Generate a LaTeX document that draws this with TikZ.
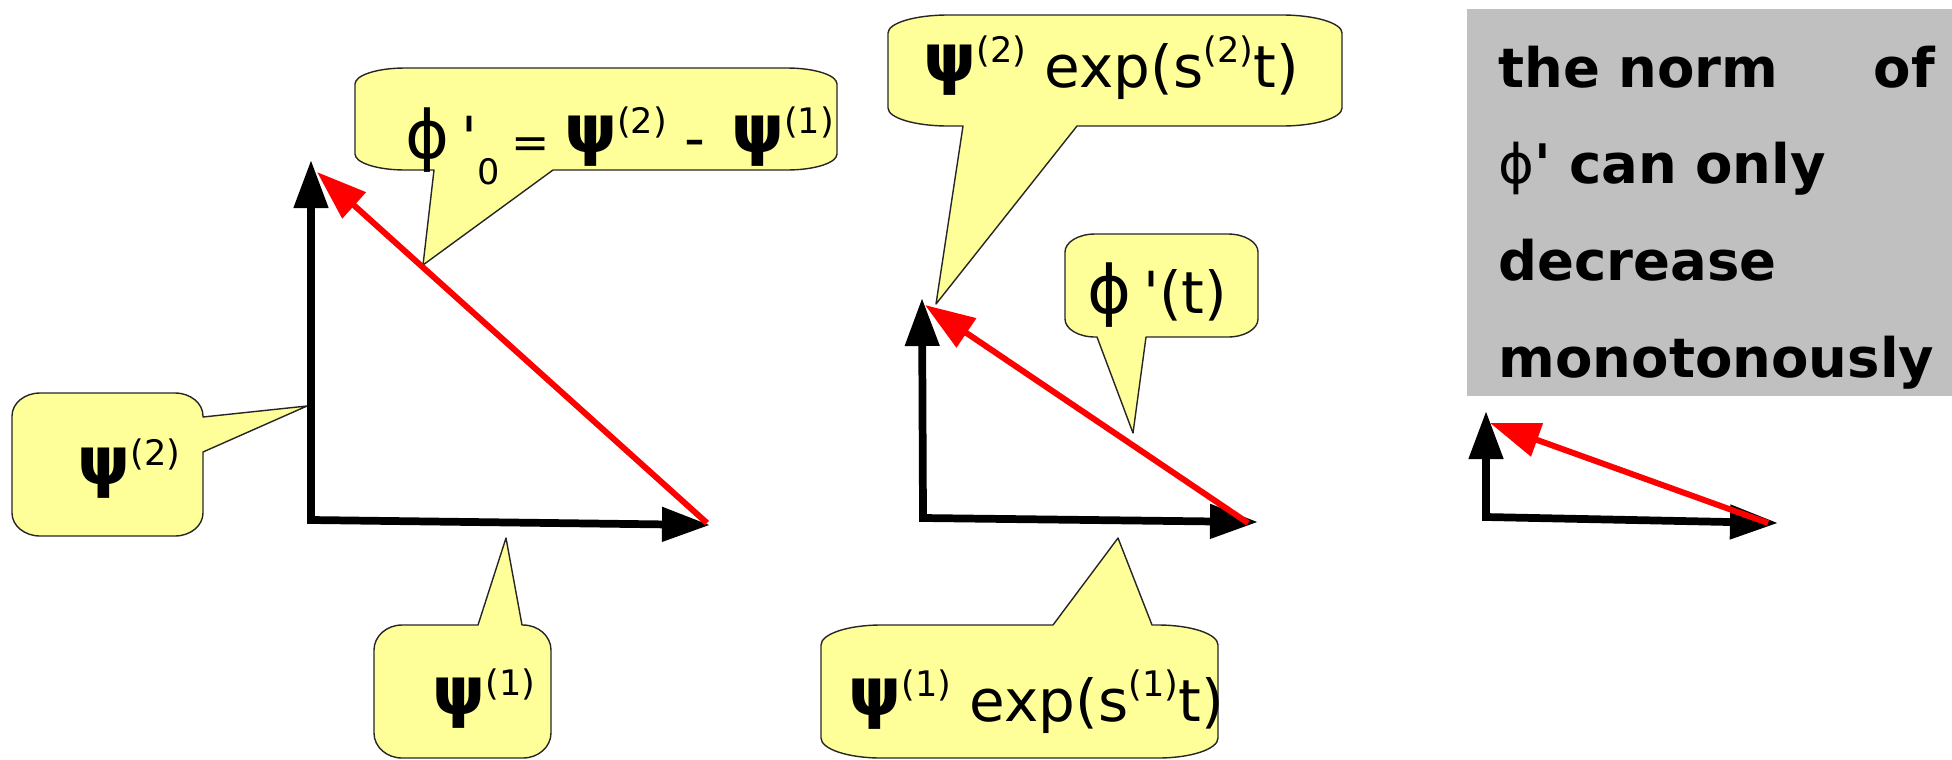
\documentclass[tikz,border=0pt]{standalone}
\usepackage{fontspec}
\setmainfont{DejaVu Sans}
\usepackage{tikz}
\usetikzlibrary{arrows.meta}
\definecolor{bubfill}{RGB}{255,255,153}
\definecolor{normgray}{RGB}{192,192,192}
\newcommand{\sups}[1]{\raisebox{0.42em}{\fontsize{10}{10}\selectfont #1}}
\newcommand{\bpsi}{\raisebox{0.06cm}{\fontsize{19}{19}\selectfont\bfseries ψ}}
\newcommand{\bphi}{{\fontsize{19}{19}\selectfont ϕ}}
\tikzset{
  axisline/.style={
    >={Triangle[length=4.8mm,width=3.3mm]}, <->,
    line width=2.2pt, line join=miter, color=black
  },
  redarrow/.style={-{Triangle[length=5mm,width=3.4mm]}, line width=1.7pt, color=red},
  bubble/.style={draw=black!85, fill=bubfill, line width=0.4pt, line join=round},
  bubtext/.style={anchor=base west, inner sep=0pt, font=\fontsize{16.5}{20}\selectfont},
  normtext/.style={
    anchor=north west, inner sep=0pt, align=left, text width=4.36cm,
    font=\fontsize{15.5}{27.5}\selectfont\bfseries
  },
}

\begin{document}
\begin{tikzpicture}
  \useasboundingbox (0,0) rectangle (19.52,-7.59);

  \coordinate (orig1)  at (3.11,-5.20);
  \coordinate (yend1)  at (3.11,-1.60);
  \coordinate (xend1)  at (7.10,-5.25);
  \coordinate (rtail1) at (7.07,-5.23);
  \coordinate (rhead1) at (3.17,-1.72);

  \coordinate (orig2)  at (9.23,-5.18);
  \coordinate (yend2)  at (9.22,-2.98);
  \coordinate (xend2)  at (12.58,-5.22);
  \coordinate (rtail2) at (12.48,-5.23);
  \coordinate (rhead2) at (9.25,-3.05);

  \coordinate (orig3)  at (14.86,-5.17);
  \coordinate (yend3)  at (14.86,-4.11);
  \coordinate (xend3)  at (17.78,-5.23);
  \coordinate (rtail3) at (17.68,-5.23);
  \coordinate (rhead3) at (14.90,-4.23);

  \coordinate (tipphizero) at (4.23,-2.65);
  \coordinate (tippsitwoexp) at (9.36,-3.04);
  \coordinate (tipphit)   at (11.33,-4.33);
  \coordinate (tippsitwo) at (3.07,-4.06);
  \coordinate (tippsione) at (5.06,-5.38);
  \coordinate (tippsioneexp) at (11.18,-5.38);

  \draw[bubble, x radius=0.5, y radius=0.16]
    (4.05,-0.68) -- (7.87,-0.68) arc[start angle=90, end angle=0]
    -- (8.37,-1.54) arc[start angle=0, end angle=-90]
    -- (5.53,-1.70) -- (tipphizero) -- (4.34,-1.70)
    -- (4.05,-1.70) arc[start angle=-90, end angle=-180]
    -- (3.55,-0.84) arc[start angle=180, end angle=90] -- cycle;
  \draw[bubble, x radius=0.6, y radius=0.18]
    (9.48,-0.15) -- (12.82,-0.15) arc[start angle=90, end angle=0]
    -- (13.42,-1.08) arc[start angle=0, end angle=-90]
    -- (10.77,-1.26) -- (tippsitwoexp) -- (9.63,-1.26)
    -- (9.48,-1.26) arc[start angle=-90, end angle=-180]
    -- (8.88,-0.33) arc[start angle=180, end angle=90] -- cycle;
  \draw[bubble, x radius=0.3, y radius=0.18]
    (10.95,-2.34) -- (12.28,-2.34) arc[start angle=90, end angle=0]
    -- (12.58,-3.19) arc[start angle=0, end angle=-90]
    -- (11.46,-3.37) -- (tipphit) -- (10.97,-3.37)
    -- (10.95,-3.37) arc[start angle=-90, end angle=-180]
    -- (10.65,-2.52) arc[start angle=180, end angle=90] -- cycle;
  \draw[bubble, x radius=0.28, y radius=0.23]
    (0.40,-3.93) -- (1.75,-3.93) arc[start angle=90, end angle=0]
    -- (2.03,-4.17) -- (tippsitwo) -- (2.03,-4.52)
    -- (2.03,-5.13) arc[start angle=0, end angle=-90]
    -- (0.40,-5.36) arc[start angle=-90, end angle=-180]
    -- (0.12,-4.16) arc[start angle=180, end angle=90] -- cycle;
  \draw[bubble, x radius=0.28, y radius=0.25]
    (4.02,-6.25) -- (4.78,-6.25) -- (tippsione) -- (5.22,-6.25)
    -- (5.23,-6.25) arc[start angle=90, end angle=0]
    -- (5.51,-7.33) arc[start angle=0, end angle=-90]
    -- (4.02,-7.58) arc[start angle=-90, end angle=-180]
    -- (3.74,-6.50) arc[start angle=180, end angle=90] -- cycle;
  \draw[bubble, x radius=0.6, y radius=0.2]
    (8.81,-6.25) -- (10.53,-6.25) -- (tippsioneexp) -- (11.52,-6.25)
    -- (11.58,-6.25) arc[start angle=90, end angle=0]
    -- (12.18,-7.38) arc[start angle=0, end angle=-90]
    -- (8.81,-7.58) arc[start angle=-90, end angle=-180]
    -- (8.21,-6.45) arc[start angle=180, end angle=90] -- cycle;

  \node[bubtext] (phizero) at (4.05,-1.58)
       {\bphi\hspace{0.2em}\textquotesingle\raisebox{-0.45em}{\fontsize{10}{10}\selectfont 0}\hspace{0.2em}{\fontsize{13}{13}\selectfont =}\hspace{0.25em}\bpsi\sups{(2)}\hspace{0.3em}-\hspace{0.45em}\bpsi\sups{(1)}};
  \node[bubtext] (psitwoexp) at (9.23,-0.87) {\bpsi\sups{(2)} exp(s\sups{(2)}t)};
  \node[bubtext] (phit) at (10.87,-3.13) {\bphi\hspace{0.2em}\textquotesingle(t)};
  \node[bubtext] (psitwo) at (0.77,-4.90) {\bpsi\sups{(2)}};
  \node[bubtext] (psione) at (4.32,-7.20) {\bpsi\sups{(1)}};
  \node[bubtext] (psioneexp) at (8.48,-7.21) {\bpsi\sups{(1)} exp(s\sups{(1)}t)};

  \draw[axisline] (yend1) -- (orig1) -- (xend1);
  \draw[redarrow] (rtail1) -- (rhead1);
  \draw[axisline] (yend2) -- (orig2) -- (xend2);
  \draw[redarrow] (rtail2) -- (rhead2);
  \draw[axisline] (yend3) -- (orig3) -- (xend3);
  \draw[redarrow] (rtail3) -- (rhead3);

  \fill[normgray] (14.67,-0.09) rectangle (19.52,-3.96);
  \node[normtext] (normnote) at (14.98,-0.45)
       {the norm\hfill of\\{\mdseries ϕ}\textquotesingle{} can only\\decrease\\monotonously};
\end{tikzpicture}
\end{document}
